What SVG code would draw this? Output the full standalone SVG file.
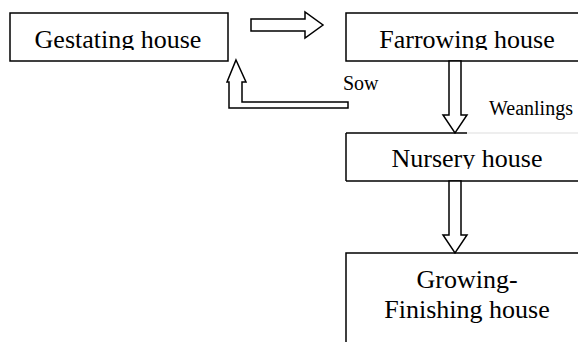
<svg xmlns="http://www.w3.org/2000/svg" width="578" height="342" viewBox="0 0 578 342">
  <style>
    .box { fill: #ffffff; stroke: #000000; stroke-width: 1.5; }
    .arrow { fill: #ffffff; stroke: #000000; stroke-width: 1.5; stroke-linejoin: miter; }
    text { font-family: 'Liberation Serif', serif; fill: #000000; }
    .label { font-size: 26px; text-anchor: middle; }
    .small { font-size: 20px; }
  </style>
  <defs>
    <clipPath id="clipGest"><rect x="10" y="13" width="218" height="37"/></clipPath>
    <clipPath id="clipFarr"><rect x="346" y="13" width="232" height="37"/></clipPath>
    <clipPath id="clipNurs"><rect x="346" y="133" width="232" height="36"/></clipPath>
  </defs>
  <rect x="0" y="0" width="578" height="342" fill="#ffffff"/>

  <g id="gestating">
    <rect class="box" x="10" y="13" width="218" height="48"/>
    <text class="label" x="118" y="48" clip-path="url(#clipGest)">Gestating house</text>
  </g>

  <g id="farrowing">
    <rect class="box" x="346" y="13" width="240" height="48"/>
    <text class="label" x="467" y="48" clip-path="url(#clipFarr)">Farrowing house</text>
  </g>

  <g id="nursery">
    <rect x="346" y="133" width="240" height="48" fill="#ffffff"/>
    <line x1="346" y1="133" x2="467" y2="133" stroke="#000" stroke-width="1.5"/>
    <line x1="467" y1="133" x2="578" y2="133" stroke="#dddddd" stroke-width="1"/>
    <line x1="346" y1="133" x2="346" y2="181" stroke="#000" stroke-width="1.5"/>
    <line x1="346" y1="181" x2="578" y2="181" stroke="#000" stroke-width="1.5"/>
    <text class="label" x="467" y="167" clip-path="url(#clipNurs)">Nursery house</text>
  </g>

  <g id="growing">
    <rect class="box" x="346" y="253" width="240" height="100"/>
    <text class="label" x="467" y="288">Growing-</text>
    <text class="label" x="467" y="318">Finishing house</text>
  </g>

  <g id="connectors">
    <polygon class="arrow" points="251,19 305,19 305,12 323,25 305,38 305,31 251,31"/>
    <polygon class="arrow" points="449,61 461,61 461,115 467,115 455,133 443,115 449,115"/>
    <polygon class="arrow" points="449,181 461,181 461,235 467,235 455,253 443,235 449,235"/>
    <polygon class="arrow" points="236,60 246,82 242,82 242,102 348,102 348,108 229,108 229,82 227,82"/>
    <text class="small" x="343" y="90">Sow</text>
    <text class="small" x="489" y="115">Weanlings</text>
  </g>
</svg>
